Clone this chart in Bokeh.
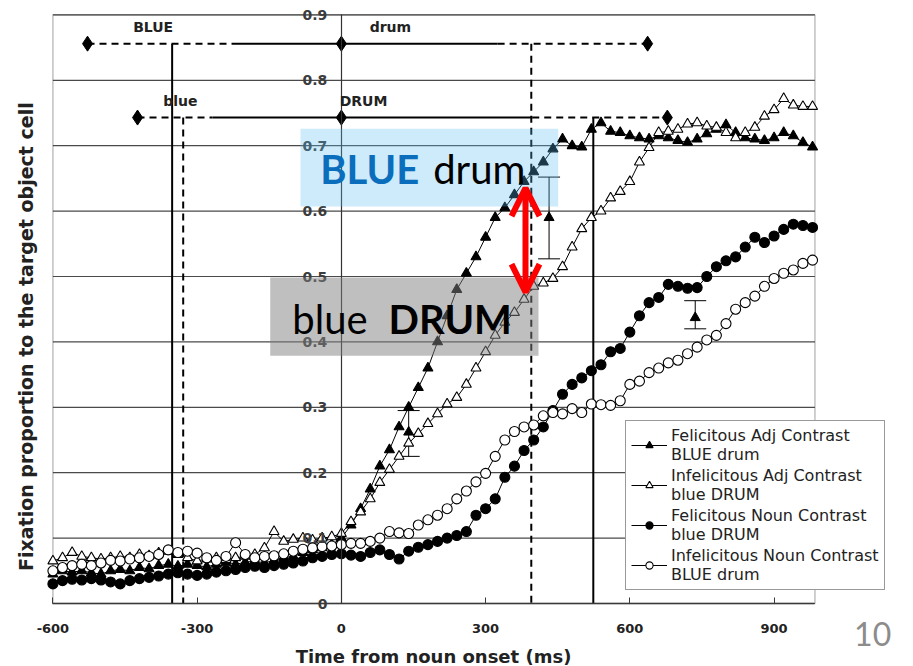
from math import pi
from bokeh.plotting import figure
from bokeh.models import (ColumnDataSource, Legend, LegendItem, Whisker, TeeHead, Arrow,
                          OpenHead, BoxAnnotation, Label, LabelSet, FixedTicker, Range1d)
from bokeh.core.properties import value
from bokeh.embed import file_html
from bokeh.resources import INLINE

# ---------------- data ----------------
time_ms = list(range(-600, 981, 20))

fel_adj = [0.045, 0.050, 0.048, 0.050, 0.047, 0.045, 0.050, 0.052, 0.050, 0.055,
           0.053, 0.058, 0.060, 0.057, 0.060, 0.058, 0.056, 0.060, 0.062, 0.060,
           0.063, 0.065, 0.062, 0.066, 0.070, 0.072, 0.078, 0.082, 0.085, 0.090,
           0.100, 0.120, 0.145, 0.175, 0.210, 0.235, 0.270, 0.300, 0.330, 0.360,
           0.400, 0.440, 0.480, 0.505, 0.530, 0.560, 0.590, 0.605, 0.625, 0.645,
           0.660, 0.675, 0.695, 0.710, 0.700, 0.698, 0.725, 0.735, 0.722, 0.720,
           0.715, 0.712, 0.710, 0.715, 0.712, 0.708, 0.705, 0.710, 0.718, 0.725,
           0.732, 0.720, 0.712, 0.710, 0.708, 0.712, 0.720, 0.715, 0.705, 0.698]

infel_adj = [0.065, 0.070, 0.078, 0.072, 0.070, 0.068, 0.070, 0.072, 0.070, 0.075,
             0.073, 0.077, 0.080, 0.075, 0.070, 0.065, 0.068, 0.070, 0.067, 0.070,
             0.072, 0.075, 0.085, 0.110, 0.095, 0.098, 0.100, 0.097, 0.100, 0.102,
             0.107, 0.125, 0.140, 0.160, 0.185, 0.205, 0.225, 0.245, 0.260, 0.275,
             0.290, 0.305, 0.315, 0.335, 0.360, 0.385, 0.410, 0.430, 0.445, 0.465,
             0.485, 0.490, 0.497, 0.515, 0.545, 0.573, 0.590, 0.600, 0.620, 0.630,
             0.645, 0.675, 0.697, 0.720, 0.722, 0.725, 0.733, 0.735, 0.730, 0.728,
             0.720, 0.712, 0.720, 0.728, 0.745, 0.755, 0.772, 0.762, 0.760, 0.760]

fel_noun = [0.030, 0.035, 0.037, 0.036, 0.038, 0.036, 0.033, 0.030, 0.035, 0.038,
            0.040, 0.042, 0.045, 0.047, 0.045, 0.043, 0.045, 0.048, 0.050, 0.052,
            0.055, 0.057, 0.055, 0.058, 0.060, 0.062, 0.065, 0.070, 0.072, 0.075,
            0.076, 0.074, 0.072, 0.078, 0.082, 0.075, 0.068, 0.080, 0.086, 0.090,
            0.095, 0.100, 0.104, 0.110, 0.135, 0.145, 0.160, 0.193, 0.210, 0.234,
            0.250, 0.270, 0.295, 0.320, 0.335, 0.345, 0.356, 0.365, 0.385, 0.390,
            0.415, 0.440, 0.460, 0.468, 0.488, 0.485, 0.482, 0.483, 0.500, 0.515,
            0.524, 0.530, 0.545, 0.560, 0.552, 0.562, 0.572, 0.580, 0.578, 0.575]

infel_noun = [0.050, 0.055, 0.058, 0.060, 0.058, 0.062, 0.066, 0.065, 0.068, 0.070,
              0.072, 0.075, 0.082, 0.078, 0.080, 0.077, 0.070, 0.066, 0.072, 0.093,
              0.075, 0.070, 0.072, 0.073, 0.076, 0.080, 0.083, 0.085, 0.087, 0.088,
              0.090, 0.092, 0.092, 0.095, 0.100, 0.110, 0.108, 0.107, 0.120, 0.128,
              0.135, 0.145, 0.160, 0.172, 0.186, 0.199, 0.225, 0.250, 0.263, 0.270,
              0.273, 0.287, 0.292, 0.290, 0.298, 0.292, 0.305, 0.304, 0.303, 0.310,
              0.335, 0.340, 0.353, 0.360, 0.368, 0.372, 0.382, 0.392, 0.403, 0.410,
              0.428, 0.450, 0.460, 0.470, 0.485, 0.497, 0.505, 0.510, 0.520, 0.525]

series_labels = ["Felicitous Adj Contrast\nBLUE drum",
                 "Infelicitous Adj Contrast\nblue DRUM",
                 "Felicitous Noun Contrast\nblue DRUM",
                 "Infelicitous Noun Contrast\nBLUE drum"]

# error bars (felicitous adj contrast)
err_ms = [140, 432, 736]
err_mid = [0.262, 0.590, 0.437]
err_low = [0.225, 0.527, 0.420]
err_high = [0.295, 0.652, 0.463]

# word timing rows (diamonds = onset / mean / offset; solid = core span)
row_names = [["BLUE", "drum"], ["blue", "DRUM"]]
row_level = [0.856, 0.743]
row_diamonds = [[-528, 0, 637], [-424, 0, 678]]
row_solid = [[-215, 325], [-268, 397]]
vline_ms = [-352, 395, -329, 524]
vline_row = [0, 0, 1, 1]
vline_dashed = [False, True, True, False]

x_ticks = [-600, -300, 0, 300, 600, 900]
x_tick_labels = ["-600", "-300", "0", "300", "600", "900"]
y_ticks = [0, 0.1, 0.2, 0.3, 0.4, 0.5, 0.6, 0.7, 0.8, 0.9]
y_tick_labels = ["0", "0.1", "0.2", "0.3", "0.4", "0.5", "0.6", "0.7", "0.8", "0.9"]

X_MIN, X_MAX = -600, 985
Y_MIN, Y_MAX = 0, 0.9

# ---------------- figure ----------------
FONT = "DejaVu Sans"
p = figure(width=913, height=666, x_range=Range1d(-709, 1190), y_range=Range1d(-0.0963, 0.922),
           output_backend="svg", toolbar_location=None,
           min_border_left=0, min_border_right=0, min_border_top=0, min_border_bottom=0,
           background_fill_color="white", border_fill_color="white")
p.outline_line_color = None
p.xgrid.visible = False
p.ygrid.visible = False

# horizontal grid lines limited to the plotting box
p.segment(x0=[X_MIN] * len(y_ticks), x1=[X_MAX] * len(y_ticks), y0=y_ticks, y1=y_ticks,
          line_color="#4a4a4a", line_width=1.2, level="underlay")
# plot box
p.add_layout(BoxAnnotation(left=X_MIN, right=X_MAX, bottom=Y_MIN, top=Y_MAX,
                           fill_alpha=0, line_color="#3a3a3a", line_width=1.6,
                           level="underlay"))

# x axis at y = 0
xa = p.xaxis[0]
xa.fixed_location = 0
xa.bounds = (X_MIN, X_MAX)
xa.ticker = FixedTicker(ticks=x_ticks)
xa.major_label_overrides = {t: s for t, s in zip(x_ticks, x_tick_labels)}
xa.minor_tick_line_color = None
xa.major_tick_in = 6
xa.major_tick_out = 0
xa.major_tick_line_color = "#3a3a3a"
xa.axis_line_color = "#3a3a3a"
xa.axis_line_width = 1.5
xa.major_label_text_font = FONT
xa.major_label_text_font_style = "bold"
xa.major_label_text_font_size = "13px"
xa.major_label_text_color = "#222222"
xa.major_label_standoff = 20
xa.axis_label = "Time from noun onset (ms)"
xa.axis_label_text_font = FONT
xa.axis_label_text_font_style = "bold"
xa.axis_label_text_font_size = "18px"
xa.axis_label_text_color = "#222222"
xa.axis_label_standoff = 10

# y axis at x = 0
ya = p.yaxis[0]
ya.fixed_location = 0
ya.bounds = (Y_MIN, Y_MAX)
ya.ticker = FixedTicker(ticks=y_ticks)
ya.major_label_overrides = {t: s for t, s in zip(y_ticks, y_tick_labels)}
ya.minor_tick_line_color = None
ya.major_tick_in = 0
ya.major_tick_out = 0
ya.axis_line_color = "#333333"
ya.axis_line_width = 1.2
ya.major_label_text_font = FONT
ya.major_label_text_font_style = "bold"
ya.major_label_text_font_size = "14px"
ya.major_label_text_color = "#3c3c3c"
ya.major_label_standoff = 14

# y axis title
p.add_layout(Label(x=-657, y=0.408, text="Fixation proportion to the target object cell",
                   angle=pi / 2, text_align="center", text_baseline="middle",
                   text_font=FONT, text_font_style="bold", text_font_size="19px",
                   text_color="#222222"))

# vertical word-boundary lines
for ms, r, dashed in zip(vline_ms, vline_row, vline_dashed):
    p.segment(x0=[ms], y0=[row_level[r]], x1=[ms], y1=[0], line_color="black",
              line_width=2, line_dash="7 5" if dashed else "solid")

# timing rows
for names, lvl, dia, sol in zip(row_names, row_level, row_diamonds, row_solid):
    p.segment(x0=[dia[0], sol[1]], y0=[lvl, lvl], x1=[sol[0], dia[2]], y1=[lvl, lvl],
              line_color="black", line_width=2, line_dash="7 5")
    p.segment(x0=[sol[0]], y0=[lvl], x1=[sol[1]], y1=[lvl], line_color="black", line_width=2)
    p.scatter(x=dia, y=[lvl] * len(dia), marker="diamond", size=15, color="black")

row_label_src = ColumnDataSource(dict(
    x=[(row_diamonds[0][0] + row_solid[0][0]) / 2 - 20, 102, -335, 46],
    y=[row_level[0] + 0.025, row_level[0] + 0.025, row_level[1] + 0.025, row_level[1] + 0.025],
    text=[row_names[0][0], row_names[0][1], row_names[1][0], row_names[1][1]]))
p.add_layout(LabelSet(x="x", y="y", text="text", source=row_label_src, text_align="center",
                      text_baseline="middle", text_font=value(FONT),
                      text_font_style=value("bold"), text_font_size=value("14px"),
                      text_color="#222222"))

# series
src = ColumnDataSource(dict(t=time_ms, a=fel_adj, b=infel_adj, c=fel_noun, d=infel_noun))
styles = [("a", "triangle", "black", 10), ("b", "triangle", "white", 10),
          ("c", "circle", "black", 10), ("d", "circle", "white", 10)]
items = []
for (col, mk, fill, sz), lab in zip(styles, series_labels):
    ln = p.line(x="t", y=col, source=src, line_color="black", line_width=1)
    sc = p.scatter(x="t", y=col, source=src, marker=mk, size=sz, fill_color=fill,
                   line_color="black", line_width=1.1)
    items.append(LegendItem(label=lab, renderers=[ln, sc]))

# error bars
err_src = ColumnDataSource(dict(x=err_ms, mid=err_mid, lower=err_low, upper=err_high))
p.add_layout(Whisker(source=err_src, base="x", lower="lower", upper="upper",
                     dimension="height", line_color="black", line_width=1,
                     upper_head=TeeHead(size=22, line_color="black", line_width=1),
                     lower_head=TeeHead(size=22, line_color="black", line_width=1)))
p.scatter(x="x", y="mid", source=err_src, marker="triangle", size=10, color="black")

# legend
legend = Legend(items=items, location=(625, 76), border_line_color="#333333",
                border_line_width=1.2, background_fill_color="white", background_fill_alpha=1.0,
                label_text_font=FONT, label_text_font_size="16px", label_text_color="#222222",
                label_text_line_height=1.2, glyph_width=36, glyph_height=18,
                label_height=36, spacing=2, padding=5, margin=0, label_standoff=4)
p.add_layout(legend)

# call-out boxes
p.add_layout(BoxAnnotation(left=-85, right=451, bottom=0.607, top=0.726,
                           fill_color="#5bbcf0", fill_alpha=0.3, line_color=None))
p.add_layout(BoxAnnotation(left=-148, right=410, bottom=0.379, top=0.4985,
                           fill_color="#7f7f7f", fill_alpha=0.5, line_color=None))
p.add_layout(Label(x=-44, y=0.665, text="BLUE", text_font="Lato", text_font_style="bold",
                   text_font_size="40px", text_color="#0a6ebd", text_baseline="alphabetic"))
p.add_layout(Label(x=191, y=0.665, text="drum", text_font="Lato",
                   text_font_size="40px", text_color="black", text_baseline="alphabetic"))
p.add_layout(Label(x=-102, y=0.435, text="blue", text_font="Lato",
                   text_font_size="40px", text_color="black", text_baseline="alphabetic"))
p.add_layout(Label(x=98, y=0.435, text="DRUM", text_font="Lato", text_font_style="bold",
                   text_font_size="40px", text_color="black", text_baseline="alphabetic"))

# red double arrow
p.add_layout(Arrow(x_start=383, y_start=0.476, x_end=383, y_end=0.635,
                   line_color="#ff0000", line_width=6,
                   start=OpenHead(size=28, line_color="#ff0000", line_width=6),
                   end=OpenHead(size=28, line_color="#ff0000", line_width=6)))

# slide page number
p.add_layout(Label(x=1105, y=-0.047, text="10", text_font="Lato", text_font_size="32px",
                   text_color="#8c8c8c", text_align="center", text_baseline="alphabetic"))

open("out.html", "w").write(file_html(p, INLINE))
